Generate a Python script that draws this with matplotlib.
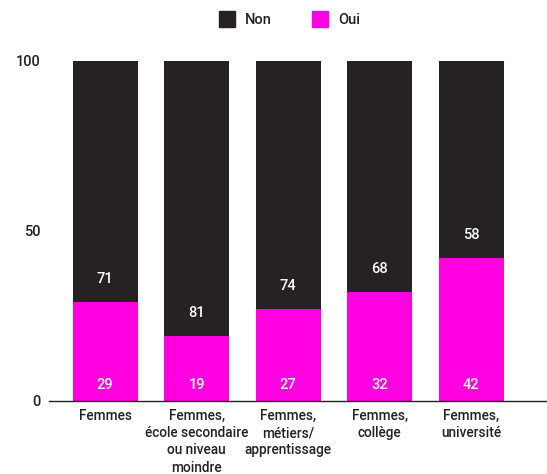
import matplotlib
matplotlib.use("Agg")
import matplotlib.pyplot as plt
from matplotlib.patches import Patch

categories = ["Femmes", "Femmes,\nécole secondaire\nou niveau\nmoindre",
              "Femmes,\nmétiers/\napprentissage", "Femmes,\ncollège", "Femmes,\nuniversité"]
oui = [29, 19, 27, 32, 42]
non = [71, 81, 74, 68, 58]
yticks = [0, 50, 100]

c_non = "#252124"
c_oui = "#ff00e0"
txt = "#222222"

plt.rcParams['font.family'] = ['Roboto', 'DejaVu Sans']
plt.rcParams['font.weight'] = 'medium'

fig = plt.figure(figsize=(5.47, 4.74), dpi=100)
ax = fig.add_axes([49/547, (474-400.5)/474, (547-49)/547, 340/474])

x = list(range(len(categories)))
w = 0.71
ax.bar(x, oui, width=w, color=c_oui, zorder=2)
ax.bar(x, non, width=w, bottom=oui, color=c_non, zorder=2)

for xi, o, n in zip(x, oui, non):
    ax.text(xi, 4.7, f"{o}", ha="center", va="center", color="white", fontsize=10.5, fontweight="medium")
    ax.text(xi, o + 6.8, f"{n}", ha="center", va="center", color="white", fontsize=10.5, fontweight="medium")

ax.set_xlim(-0.614, 4.83)
ax.set_ylim(0, 100)
ax.set_yticks(yticks)
ax.set_yticklabels([str(v) for v in yticks], fontsize=10.5, color=txt, fontweight="medium")
ax.set_xticks(x)
ax.set_xticklabels(categories, fontsize=9.8, color=txt, linespacing=1.3, fontweight="medium")
ax.tick_params(axis="both", length=0)
ax.tick_params(axis="y", pad=6)
ax.tick_params(axis="x", pad=6)
for s in ["top", "right", "left"]:
    ax.spines[s].set_visible(False)
ax.spines["bottom"].set_color(txt)
ax.spines["bottom"].set_linewidth(1)
ax.spines["bottom"].set_zorder(3)

handles = [Patch(color=c_non, label="Non"), Patch(color=c_oui, label="Oui")]
fig.legend(handles=handles, loc="center", bbox_to_anchor=(289.5/547, 1 - 19/474), ncol=2,
           frameon=False, handlelength=1.1, handleheight=1.25,
           handletextpad=0.65, columnspacing=2.8, labelcolor=txt,
           prop={'size': 10.5, 'weight': 'medium', 'family': ['Roboto', 'DejaVu Sans']})

fig.savefig("out.png", dpi=100)
